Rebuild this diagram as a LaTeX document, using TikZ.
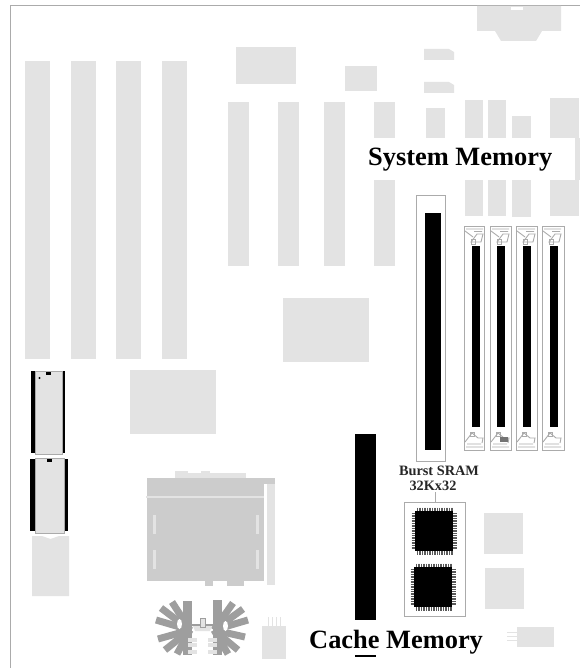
\documentclass[tikz,border=0pt]{standalone}
\usepackage{fontspec}
\setmainfont{Liberation Serif}
\definecolor{boardgray}{HTML}{E3E3E3}
\definecolor{socketgray}{HTML}{CCCCCC}
\definecolor{fangray}{HTML}{9E9E9E}
\definecolor{edgegray}{HTML}{ABABAB}

\begin{document}
\begin{tikzpicture}[x=1pt, y=-1pt,
    part/.style={fill=boardgray, draw=none},
    edge/.style={draw=edgegray, line width=0.9pt},
    fin/.style={draw=fangray, line width=7pt},
    clip/.style={draw=edgegray, line width=0.9pt},
    bigtitle/.style={font=\fontsize{26.4}{28}\selectfont\bfseries, inner sep=0pt, anchor=base west},
    smalltitle/.style={font=\fontsize{14.3}{16}\selectfont\bfseries, text=black!85, inner sep=0pt, anchor=base}]
    \useasboundingbox (0,0) rectangle (580,668);

    % 1. board outline
    \draw[edge] (10.5,668) -- (10.5,5.8) -- (580,5.8);

    % 2. expansion slots
    \foreach \x in {25,71,116,162}
        \fill[part] (\x,61) rectangle ++(25,298);
    \foreach \x in {228,278,324}
        \fill[part] (\x,102) rectangle ++(21,164);
    \fill[part] (374,102) rectangle (395,138);
    \fill[part] (374,180) rectangle (395,266);

    % 3. upper blocks
    \fill[part] (236,47) rectangle (296,84);
    \fill[part] (345,66) rectangle (377,91);
    \fill[part] (477,6) -- (561,6) -- (561,31) -- (542,31) -- (536,41) -- (501,41) -- (495,31) -- (477,31) -- cycle;
    \fill[white] (511,7) rectangle (523,10);
    \fill[part] (424,49) -- (449,49) -- (454,52) -- (454,60) -- (424,60) -- cycle;
    \fill[part] (424,82) -- (449,82) -- (454,85) -- (454,93) -- (424,93) -- cycle;
    \fill[part] (426,108) rectangle (445,138);
    \fill[part] (465,100) rectangle (483,138);
    \fill[part] (488,100) rectangle (506,138);
    \fill[part] (512,116) rectangle (531,138);
    \fill[part] (550,98) rectangle (579,138);
    \fill[part] (575,138) rectangle (580,180);
    \fill[part] (465,180) rectangle (483,216);
    \fill[part] (488,180) rectangle (506,216);
    \fill[part] (512,180) rectangle (531,217);
    \fill[part] (550,180) rectangle (579,216);
    \fill[part] (283,298) rectangle (369,362);
    \fill[part] (130,370) rectangle (216,434);

    % 4. memory module sockets
    \draw[edge, fill=white] (416,195.5) rectangle (445,461);
    \fill[black] (425,213) rectangle (441,450);
    \foreach \x/\w/\b in {464/20/472, 490/21/497, 516/21/523, 542/22/550} {
        \draw[edge, fill=white] (\x,226) rectangle ++(\w,224);
        \fill[black] (\b,246) rectangle ++(8,181);
        % top clip
        \begin{scope}[shift={(\x,226)}]
            \draw[clip] (2,3) -- (19,3) (10,5.5) -- (18,5.5) (1,5) -- (9,11);
            \draw[clip] (13,8) -- (19,8) -- (17,16) -- (7,16) -- cycle;
            \draw[clip] (7,13) rectangle (11,18);
        \end{scope}
        % bottom clip
        \begin{scope}[shift={(\x,450)}]
            \draw[clip] (2,-3) -- (19,-3) (3,-6) -- (17,-6) (1,-8) -- (8,-17);
            \draw[clip] (8,-17) -- (14,-12) -- (19,-12) -- (18,-7);
            \draw[clip] (6,-18) rectangle (10,-14);
        \end{scope}
    }
    \fill[black!55] (500,437) rectangle (508,442);

    % 5. cache chips
    \node[smalltitle] (sramname) at (439,475.5) {Burst SRAM};
    \node[smalltitle] (sramsize) at (433,490) {32Kx32};
    \coordinate (sramlead) at (435,492);
    \coordinate (sramtop) at (435,502);
    \draw[edge] (sramlead) -- (sramtop);
    \draw[edge] (404,502) rectangle (465,616);
    \foreach \cx/\cy in {415/511, 414/567} {
        \foreach \k in {1,...,22} {
            \draw[black!65, line width=0.5pt] (\cx+0.7+1.67*\k,\cy-3.5) -- ++(0,47);
            \draw[black!65, line width=0.5pt] (\cx-3.5,\cy+0.7+1.67*\k) -- ++(45,0);
        }
        \fill[black] (\cx,\cy) rectangle ++(38,40);
    }
    \fill[part] (484,513) rectangle (523,554);
    \fill[part] (485,568) rectangle (524,609);
    \fill[part] (517,627) rectangle (554,647);
    \foreach \y in {632,636,640}
        \draw[boardgray, line width=1pt] (507,\y) -- (517,\y);

    % 6. cache slot
    \fill[black] (355,434) rectangle (376,620);
    \fill[black] (355,655) rectangle (376,657);

    % 7. bios chips
    \fill[black] (31,371) rectangle (36,453);
    \fill[black] (61.5,371) rectangle (64.5,453);
    \draw[edgegray, fill=boardgray, line width=0.8pt] (35.5,371.5) -- (62,371.5) -- (62,454.5) -- (35.5,454.5) -- cycle;
    \fill[black] (46,372) rectangle (51,375);
    \fill[black] (39.5,378) circle (1.2);
    \fill[black] (30.3,458.5) rectangle (36,531);
    \fill[black] (64,458.5) rectangle (67.5,531);
    \draw[edgegray, fill=boardgray, line width=0.8pt] (35.3,458.5) -- (64.5,458.5) -- (64.5,533) -- (35.3,533) -- cycle;
    \fill[black] (47,459) rectangle (52,462);
    \fill[part] (32,536) -- (42,536) -- (50.5,539) -- (59,536) -- (69,536) -- (69,596) -- (32,596) -- cycle;

    % 8. processor socket
    \fill[part] (175,473) rectangle (246,478);
    \fill[part] (175,471) rectangle (188,478);
    \fill[part] (201,471) rectangle (210,478);
    \fill[socketgray] (147,478) rectangle (264,581);
    \fill[socketgray] (264,478) rectangle (275,484);
    \fill[part] (267,484) rectangle (275,585);
    \draw[boardgray, line width=2pt] (146,497) -- (264,497);
    \foreach \x in {153,256}
        \foreach \y in {515,550}
            \fill[part] (\x,\y) rectangle ++(3,19);
    \fill[socketgray] (205,581) rectangle (213,586);
    \fill[socketgray] (227,581) rectangle (244,586);

    % 9. heat sink
    \foreach \tx/\ty in {172/602, 161/608, 156/620, 158/639, 165/650, 177/654}
        \draw[fin] (190,630) -- (\tx,\ty);
    \fill[fangray] (183,601) rectangle (192,655);
    \foreach \tx/\ty in {233/603, 243/609, 248/620, 245/637, 238/650, 228/654}
        \draw[fin] (214,630) -- (\tx,\ty);
    \fill[fangray] (213,600) rectangle (222,655);
    \fill[white] (179.5,624) ellipse (2.5 and 5);
    \fill[white] (225.5,626) ellipse (2.5 and 5);
    \draw[fangray, line width=1.5pt] (192,625) -- (213,625);
    \fill[part] (193,626) -- (212,626) -- (210,631) -- (195,631) -- cycle;
    \draw[fangray, fill=boardgray, line width=0.6pt] (200,618) rectangle (205,627);
    \foreach \y in {638,643,650} {
        \fill[part] (188,\y) rectangle ++(9,4);
        \fill[part] (208,\y) rectangle ++(9,4);
    }

    % 10. small header
    \fill[part] (262,626) rectangle (286,659);
    \foreach \x in {268,272,276,280}
        \draw[boardgray, line width=1pt] (\x,617) -- (\x,626);

    % 11. titles
    \node[bigtitle] (systemtitle) at (368,166) {System Memory};
    \node[bigtitle] (cachetitle) at (309,648) {Cache Memory};

\end{tikzpicture}
\end{document}
